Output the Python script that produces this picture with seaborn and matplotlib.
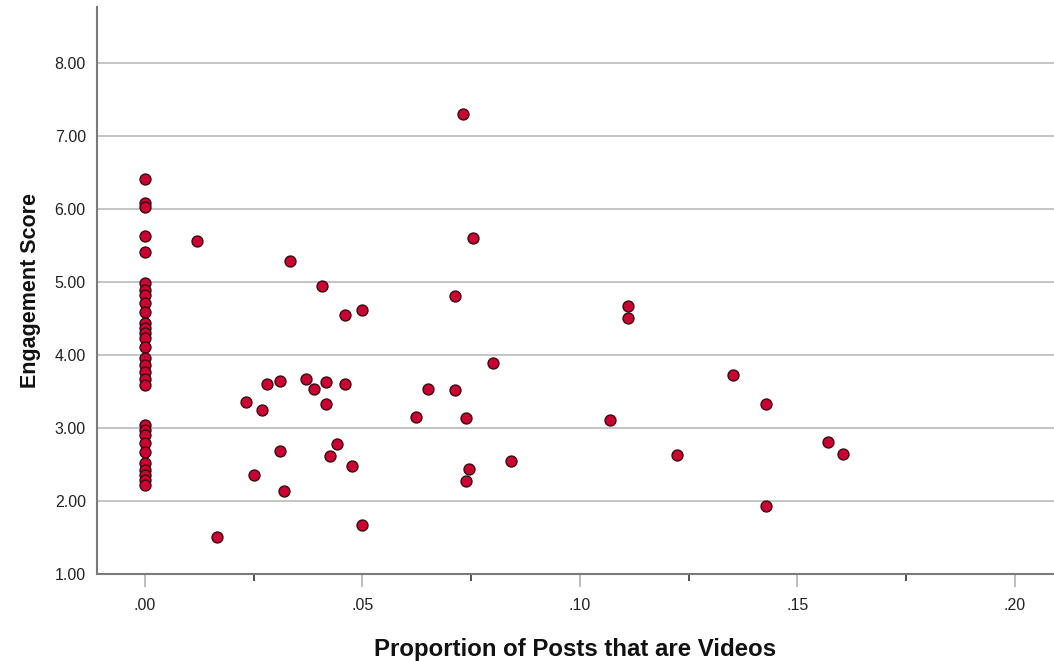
import matplotlib
matplotlib.use("Agg")
import matplotlib.pyplot as plt
import seaborn as sns
import pandas as pd
from matplotlib.ticker import MultipleLocator, FuncFormatter

# Data
zero_scores = [6.42, 6.08, 6.03, 5.63, 5.41, 4.99, 4.90, 4.82, 4.71, 4.59, 4.44,
               4.37, 4.30, 4.23, 4.11, 3.96, 3.86, 3.77, 3.68, 3.59,
               3.04, 2.97, 2.90, 2.79, 2.67, 2.52, 2.42, 2.36, 2.29, 2.22]
other_props = [0.012, 0.0166, 0.0232, 0.025, 0.027, 0.028, 0.031, 0.031, 0.032,
               0.0334, 0.037, 0.039, 0.0407, 0.0416, 0.0416, 0.0426, 0.0442,
               0.046, 0.046, 0.0476, 0.050, 0.050, 0.0624, 0.065, 0.0713, 0.0713,
               0.0732, 0.0739, 0.0739, 0.0746, 0.0755, 0.080, 0.0842, 0.107,
               0.111, 0.111, 0.1224, 0.1353, 0.1429, 0.1429, 0.157, 0.1606]
other_scores = [5.56, 1.51, 3.36, 2.36, 3.25, 3.60, 3.64, 2.68, 2.14,
                5.29, 3.68, 3.53, 4.95, 3.63, 3.33, 2.62, 2.78,
                4.55, 3.60, 2.48, 4.62, 1.67, 3.15, 3.53, 4.81, 3.52,
                7.30, 3.14, 2.27, 2.44, 5.60, 3.89, 2.55, 3.11,
                4.68, 4.51, 2.63, 3.73, 3.33, 1.93, 2.81, 2.64]

x_ticks = [0.00, 0.05, 0.10, 0.15, 0.20]
y_ticks = [1, 2, 3, 4, 5, 6, 7, 8]

df = pd.DataFrame({
    "prop": [0.0] * len(zero_scores) + other_props,
    "score": zero_scores + other_scores,
})

sns.set_style("white")
plt.rcParams["font.family"] = ["Liberation Sans", "DejaVu Sans"]

fig = plt.figure(figsize=(10.54, 6.61), dpi=100)
ax = fig.add_axes([0.092, 0.1316, 0.908, 0.8574])

ax.yaxis.grid(True, color="#c4c4c4", linewidth=1.4)
ax.set_axisbelow(True)

sns.scatterplot(data=df, x="prop", y="score", ax=ax, s=62,
                color="#cc0033", edgecolor="#3a0a10", linewidth=1.0, zorder=3)

ax.set_xlim(-0.011, 0.209)
ax.set_ylim(1.0, 8.77)
ax.set_xticks(x_ticks)
ax.set_yticks(y_ticks)
ax.xaxis.set_minor_locator(MultipleLocator(0.025))
ax.xaxis.set_major_formatter(FuncFormatter(lambda v, p: ("%.2f" % v).lstrip("0")))
ax.yaxis.set_major_formatter(FuncFormatter(lambda v, p: "%.2f" % v))

ax.tick_params(axis="x", which="major", direction="out", length=9, width=1.2,
               color="#b0b0b0", labelsize=11.5, pad=8, labelcolor="#222222")
ax.tick_params(axis="x", which="minor", direction="out", length=5, width=1.2,
               color="#333333")
ax.tick_params(axis="y", which="major", length=0, labelsize=11.5, pad=8,
               labelcolor="#222222")
ax.tick_params(axis="x", bottom=True, which="both")

for side in ["top", "right"]:
    ax.spines[side].set_visible(False)
for side in ["left", "bottom"]:
    ax.spines[side].set_color("#7a7a7a")
    ax.spines[side].set_linewidth(1.5)

ax.set_xlabel("Proportion of Posts that are Videos", fontsize=17.3,
              fontweight="bold", labelpad=18, color="#111111")
ax.set_ylabel("Engagement Score", fontsize=15.5, fontweight="bold",
              labelpad=10, color="#111111")

fig.savefig("out.png", dpi=100)
